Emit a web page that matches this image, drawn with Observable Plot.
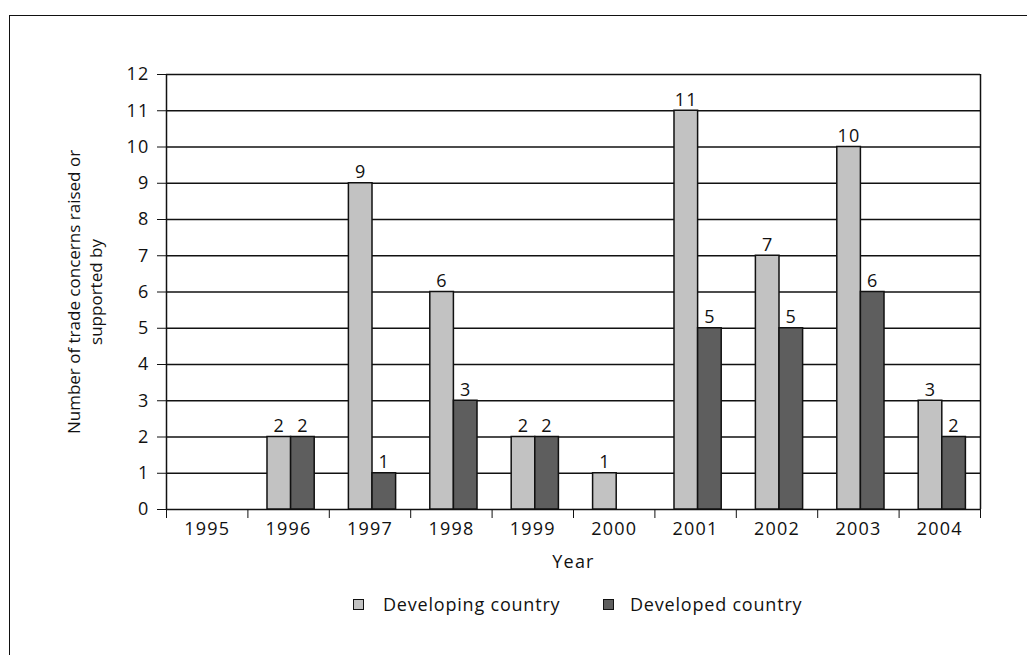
<!DOCTYPE html>
<html>
<head>
<meta charset="utf-8">
<script src="https://cdn.jsdelivr.net/npm/d3@7"></script>
<script src="https://cdn.jsdelivr.net/npm/@observablehq/plot@0.6"></script>
<style>
  html, body { margin: 0; padding: 0; background: #fff; }
  body { width: 1027px; height: 655px; position: relative; overflow: hidden; font-family: "Open Sans", sans-serif; }
  #frame { position: absolute; left: 9px; top: 15px; width: 1030px; height: 660px; border-top: 1.5px solid #111; border-left: 1.5px solid #111; box-sizing: border-box; }
  #chart { position: absolute; left: 0; top: 0; }
  #chart svg text[transform*="rotate"] { letter-spacing: 0; }
  #legend { position: absolute; top: 592px; left: 0; width: 1027px; height: 24px; font-size: 18px; letter-spacing: 0.8px; color: #111; }
  .item { position: absolute; top: 0; display: flex; align-items: center; height: 24px; }
  .sw { width: 11px; height: 11px; border: 1px solid #111; box-sizing: border-box; }
</style>
</head>
<body>
<div id="frame"></div>
<div id="chart"></div>
<div id="legend"></div>
<script>
const years = [1995, 1996, 1997, 1998, 1999, 2000, 2001, 2002, 2003, 2004];
const developing = [0, 2, 9, 6, 2, 1, 11, 7, 10, 3];
const developed = [0, 2, 1, 3, 2, 0, 5, 5, 6, 2];
const seriesNames = ["Developing country", "Developed country"];
const seriesColors = ["#c2c2c2", "#5e5e5e"];
const yTicks = [0, 1, 2, 3, 4, 5, 6, 7, 8, 9, 10, 11, 12];
const yTitle = "Number of trade concerns raised or\nsupported by";
const xTitle = "Year";

const barW = 0.29;
const xDomain = [years[0] - 0.5, years[years.length - 1] + 0.5];
const boundaries = years.map(y => y - 0.5).concat([years[years.length - 1] + 0.5]);

const rows = [];
years.forEach((y, i) => {
  rows.push({year: y, series: seriesNames[0], value: developing[i], x1: y - barW, x2: y});
  rows.push({year: y, series: seriesNames[1], value: developed[i], x1: y, x2: y + barW});
});
const shown = rows.filter(d => d.value > 0);

const font = "Open Sans, sans-serif";

const chart = Plot.plot({
  width: 1027,
  height: 590,
  marginLeft: 166,
  marginRight: 47,
  marginTop: 74,
  marginBottom: 81,
  style: {fontFamily: font, fontSize: "18px", letterSpacing: "1.2px", color: "#111", background: "transparent"},
  x: {type: "linear", domain: xDomain},
  y: {domain: [0, 12]},
  color: {domain: seriesNames, range: seriesColors},
  marks: [
    Plot.ruleY(yTicks, {stroke: "#111", strokeWidth: 1.3}),
    Plot.ruleX(xDomain, {y1: 0, y2: 12, stroke: "#111", strokeWidth: 1.5}),
    Plot.rectY(shown, {x1: "x1", x2: "x2", y: "value", fill: "series", stroke: "#111", strokeWidth: 1.5, dx: 2.5}),
    Plot.text(shown, {x: d => (d.x1 + d.x2) / 2, y: "value", text: d => String(d.value), lineAnchor: "bottom", dy: -5, dx: 2.5, fontSize: 18, fill: "#111"}),
    Plot.axisY({ticks: yTicks, tickSize: 9, tickPadding: 8, fontSize: 18, label: null, stroke: "#111"}),
    Plot.axisX({ticks: boundaries, tickSize: 9, tickFormat: () => "", label: null, stroke: "#111"}),
    Plot.axisX({ticks: years, tickSize: 0, tickPadding: 13, tickFormat: d => String(d), fontSize: 18, label: null}),
    Plot.text([xTitle], {frameAnchor: "bottom", dy: 53, lineAnchor: "middle", text: d => d, fontSize: 18, fill: "#111"}),
    Plot.text([yTitle], {frameAnchor: "left", dx: -83, rotate: -90, text: d => d, fontSize: 17, lineHeight: 1.3, lineAnchor: "middle", textAnchor: "middle", fill: "#111"})
  ]
});
document.getElementById("chart").appendChild(chart);

const legend = document.getElementById("legend");
const legendLeft = [353, 603];
const legendGap = [30, 27];
seriesNames.forEach((name, i) => {
  const item = document.createElement("div");
  item.className = "item";
  item.style.left = legendLeft[i] + "px";
  const sw = document.createElement("div");
  sw.className = "sw";
  sw.style.background = seriesColors[i];
  sw.style.marginRight = (legendGap[i] - 11) + "px";
  const t = document.createElement("span");
  t.textContent = name;
  item.appendChild(sw);
  item.appendChild(t);
  legend.appendChild(item);
});
</script>
</body>
</html>
